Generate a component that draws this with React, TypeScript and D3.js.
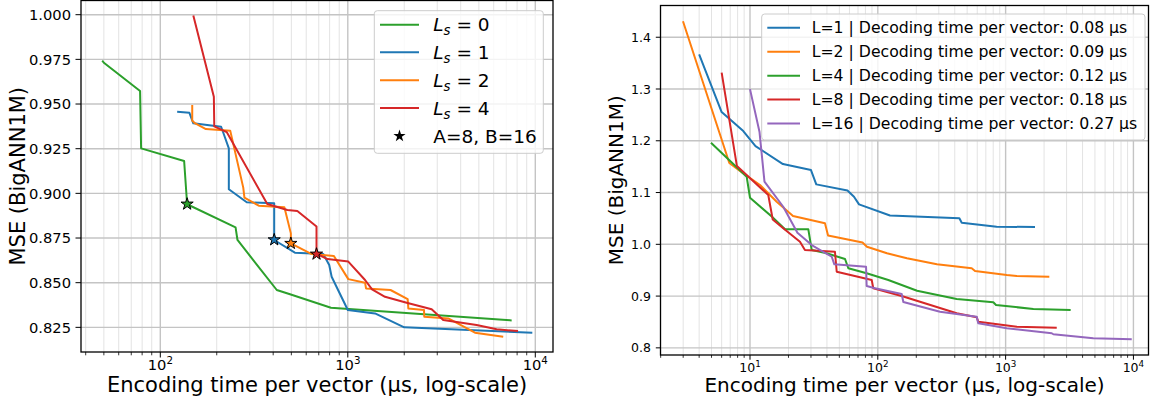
import React from 'react';
import * as d3 from 'd3';

const W = 1154;
const H = 406;
const FONT = '"DejaVu Sans", Verdana, sans-serif';

const blue = '#1f77b4';
const orange = '#ff7f0e';
const green = '#2ca02c';
const red = '#d62728';
const purple = '#9467bd';

// ---- left panel: L_s sweep ----
const ls0Time = [49, 50, 78, 79, 134, 139, 252, 258, 418, 492, 813, 7480];
const ls0Mse = [0.9743, 0.9731, 0.9573, 0.9252, 0.9181, 0.8939, 0.881, 0.8739, 0.8459, 0.8435, 0.836, 0.8289];

const ls1Time = [123, 143, 150, 211, 217, 232, 232, 289, 405, 405, 522, 740, 796, 820, 1000, 1397, 2000, 9640];
const ls1Mse = [0.9457, 0.9451, 0.9392, 0.9373, 0.9338, 0.9252, 0.9023, 0.895, 0.8944, 0.8739, 0.8668, 0.866, 0.8599, 0.8533, 0.8347, 0.8328, 0.825, 0.822];

const ls2Time = [148, 148, 152, 175, 236, 277, 281, 335, 459, 497, 497, 642, 843, 1006, 1236, 1251, 1690, 2086, 2103, 2549, 2558, 3436, 4765, 6745];
const ls2Mse = [0.9494, 0.9407, 0.9395, 0.936, 0.9351, 0.9032, 0.8976, 0.8931, 0.8922, 0.8776, 0.872, 0.866, 0.8649, 0.852, 0.85, 0.8468, 0.8459, 0.8408, 0.8356, 0.8347, 0.8309, 0.83, 0.822, 0.8198];

const ls4Time = [150, 193, 194, 226, 372, 476, 538, 681, 681, 780, 1006, 1236, 1347, 1579, 2060, 2800, 3228, 4864, 6222, 8090];
const ls4Mse = [0.9995, 0.9541, 0.9375, 0.9343, 0.894, 0.8907, 0.8901, 0.8814, 0.8662, 0.8632, 0.8618, 0.8515, 0.8463, 0.8421, 0.8388, 0.8351, 0.8291, 0.8263, 0.8239, 0.8229];

// A=8, B=16 operating points
const starTime = [139, 405, 497, 681];
const starMse = [0.894, 0.874, 0.872, 0.866];

const lsValues = ['0', '1', '2', '4'];
const leftYTicks = [0.825, 0.85, 0.875, 0.9, 0.925, 0.95, 0.975, 1.0];

// ---- right panel: L sweep ----
const l1Time = [4.0, 6.0, 8.86, 11.04, 18.1, 30, 33, 57.9, 65.1, 71.3, 124.5, 434.6, 453.6, 851, 1698];
const l1Mse = [1.3668, 1.2554, 1.2187, 1.1898, 1.155, 1.1434, 1.1158, 1.1039, 1.0919, 1.0772, 1.0556, 1.0502, 1.0417, 1.034, 1.0334];

const l2Time = [2.99, 6.89, 8.86, 11.98, 16.17, 21.7, 38.6, 40.8, 75.9, 82.2, 118, 169, 290, 543, 576.5, 1020, 1222, 2198];
const l2Mse = [1.431, 1.157, 1.137, 1.1145, 1.0822, 1.0546, 1.0405, 1.017, 1.0035, 0.9954, 0.9826, 0.973, 0.9614, 0.9537, 0.9485, 0.9407, 0.9388, 0.9375];

const l4Time = [4.95, 9.42, 10, 14.86, 18.8, 28.6, 30.4, 39.8, 55.4, 58.8, 81.8, 120.8, 202.8, 414, 801, 841, 1648, 3228];
const l4Mse = [1.196, 1.1305, 1.09, 1.0533, 1.029, 1.029, 0.989, 0.9826, 0.9716, 0.9537, 0.944, 0.9311, 0.9104, 0.8944, 0.888, 0.8828, 0.8751, 0.8732];

const l8Time = [6.0, 7.9, 13.9, 15.06, 18.2, 24.6, 26.9, 46.2, 47.7, 89.6, 92.2, 156, 414, 594, 611, 1222, 2512];
const l8Mse = [1.3317, 1.1512, 1.0952, 1.0479, 1.0309, 1.005, 0.989, 0.9857, 0.947, 0.931, 0.915, 0.8996, 0.8668, 0.8591, 0.8506, 0.8409, 0.839];

const l16Time = [10, 11.87, 12.98, 18.2, 23.5, 30.4, 43.6, 45.7, 80.9, 81.8, 95.1, 153.8, 158.4, 306.6, 594, 611, 1020, 2296, 2362, 4853, 9704];
const l16Mse = [1.2998, 1.2168, 1.1212, 1.0726, 1.0224, 0.9986, 0.976, 0.9614, 0.9568, 0.9195, 0.915, 0.904, 0.8886, 0.8699, 0.8602, 0.8475, 0.8378, 0.8282, 0.8263, 0.8185, 0.8166];

const rightLabels = [
  'L=1 | Decoding time per vector: 0.08 µs',
  'L=2 | Decoding time per vector: 0.09 µs',
  'L=4 | Decoding time per vector: 0.12 µs',
  'L=8 | Decoding time per vector: 0.18 µs',
  'L=16 | Decoding time per vector: 0.27 µs',
];
const rightYTicks = [0.8, 0.9, 1.0, 1.1, 1.2, 1.3, 1.4];

const zip = (a: number[], b: number[]) => a.map((v, i) => [v, b[i]] as [number, number]);

const leftSeries = [
  { pts: zip(ls0Time, ls0Mse), color: green },
  { pts: zip(ls1Time, ls1Mse), color: blue },
  { pts: zip(ls2Time, ls2Mse), color: orange },
  { pts: zip(ls4Time, ls4Mse), color: red },
];
const rightSeries = [
  { pts: zip(l1Time, l1Mse), color: blue },
  { pts: zip(l2Time, l2Mse), color: orange },
  { pts: zip(l4Time, l4Mse), color: green },
  { pts: zip(l8Time, l8Mse), color: red },
  { pts: zip(l16Time, l16Mse), color: purple },
];

function Panel(props: any) {
  const { id, box, xDomain, yDomain, yTicks, yFmt, tickFont, xTickBase, yTickEnd, tickLen,
    labelFont, xLabelBase, yLabelX, series, stars, legend } = props;
  const x = d3.scaleLog().domain(xDomain).range([box.x0, box.x1]);
  const y = d3.scaleLinear().domain(yDomain).range([box.y1, box.y0]);
  const line = d3.line<[number, number]>().x(d => x(d[0])).y(d => y(d[1]));

  const majors: { v: number; e: number }[] = [];
  const minors: number[] = [];
  const e0 = Math.floor(Math.log10(xDomain[0]));
  const e1 = Math.ceil(Math.log10(xDomain[1]));
  for (let e = e0; e <= e1; e++) {
    for (let m = 1; m < 10; m++) {
      const v = m * Math.pow(10, e);
      if (v < xDomain[0] || v > xDomain[1]) continue;
      if (m === 1) majors.push({ v, e });
      else minors.push(v);
    }
  }

  const star = d3.symbol(d3.symbolStar, props.starSize || 40)() as string;
  const cx = (box.x0 + box.x1) / 2;
  const cy = (box.y0 + box.y1) / 2;

  return (
    <g fontFamily={FONT}>
      <defs>
        <clipPath id={id}>
          <rect x={box.x0} y={box.y0} width={box.x1 - box.x0} height={box.y1 - box.y0} />
        </clipPath>
      </defs>
      {/* grid */}
      {minors.map((v, i) => (
        <line key={'mg' + i} x1={x(v)} x2={x(v)} y1={box.y0} y2={box.y1} stroke="#e3e3e3" strokeWidth={1} />
      ))}
      {majors.map((t, i) => (
        <line key={'Mg' + i} x1={x(t.v)} x2={x(t.v)} y1={box.y0} y2={box.y1} stroke="#c4c4c4" strokeWidth={1.4} />
      ))}
      {yTicks.map((t: number, i: number) => (
        <line key={'yg' + i} x1={box.x0} x2={box.x1} y1={y(t)} y2={y(t)} stroke="#c4c4c4" strokeWidth={1.4} />
      ))}
      {/* series */}
      <g clipPath={`url(#${id})`}>
        {series.map((s: any, i: number) => (
          <path key={'s' + i} d={line(s.pts) || ''} fill="none" stroke={s.color} strokeWidth={2} strokeLinejoin="round" />
        ))}
        {stars && stars.map((s: any, i: number) => (
          <path key={'st' + i} d={star} transform={`translate(${x(s.t)},${y(s.m)})`} fill={s.color} stroke="#000" strokeWidth={1} />
        ))}
      </g>
      {/* spines */}
      <rect x={box.x0} y={box.y0} width={box.x1 - box.x0} height={box.y1 - box.y0} fill="none" stroke="#000" strokeWidth={1.3} />
      {/* x ticks */}
      {minors.map((v, i) => (
        <line key={'mt' + i} x1={x(v)} x2={x(v)} y1={box.y1} y2={box.y1 + tickLen * 0.6} stroke="#000" strokeWidth={0.8} />
      ))}
      {majors.map((t, i) => (
        <g key={'Mt' + i}>
          <line x1={x(t.v)} x2={x(t.v)} y1={box.y1} y2={box.y1 + tickLen} stroke="#000" strokeWidth={1} />
          <text x={x(t.v)} y={xTickBase} fontSize={tickFont} textAnchor="middle" fill="#000">
            10<tspan dy={-tickFont * 0.42} fontSize={tickFont * 0.7}>{t.e}</tspan>
          </text>
        </g>
      ))}
      {/* y ticks */}
      {yTicks.map((t: number, i: number) => (
        <g key={'yt' + i}>
          <line x1={box.x0 - tickLen} x2={box.x0} y1={y(t)} y2={y(t)} stroke="#000" strokeWidth={1} />
          <text x={yTickEnd} y={y(t) + tickFont * 0.36} fontSize={tickFont} textAnchor="end" fill="#000">
            {d3.format(yFmt)(t)}
          </text>
        </g>
      ))}
      {/* axis labels */}
      <text x={cx} y={xLabelBase} fontSize={labelFont.x} textAnchor="middle" fill="#000">
        Encoding time per vector (µs, log-scale)
      </text>
      <text transform={`translate(${yLabelX},${cy}) rotate(-90)`} fontSize={labelFont.y} textAnchor="middle" fill="#000">
        MSE (BigANN1M)
      </text>
      {/* legend */}
      <g>
        <rect x={legend.x} y={legend.y} width={legend.w} height={legend.h} rx={3} fill="#fff" fillOpacity={0.8} stroke="#cccccc" strokeWidth={1} />
        {legend.items.map((it: any, i: number) => {
          const ry = legend.rows[i];
          return (
            <g key={'lg' + i}>
              {it.kind === 'line' ? (
                <line x1={legend.hx0} x2={legend.hx1} y1={ry} y2={ry} stroke={it.color} strokeWidth={2} />
              ) : (
                <path d={d3.symbol(d3.symbolStar, 46)() as string} transform={`translate(${(legend.hx0 + legend.hx1) / 2},${ry})`} fill="#000" />
              )}
              <text x={legend.tx} y={ry + legend.font * 0.36} fontSize={legend.font} fill="#000">
                {it.label}
              </text>
            </g>
          );
        })}
      </g>
    </g>
  );
}

function lsLabel(v: string) {
  return (
    <>
      <tspan fontStyle="italic">L</tspan>
      <tspan fontStyle="italic" dy={4} fontSize="0.72em">s</tspan>
      <tspan dy={-4}> = {v}</tspan>
    </>
  );
}

export default function App() {
  const leftStars = starTime.map((t, i) => ({ t, m: starMse[i], color: [green, blue, orange, red][i] }));
  const leftLegend = {
    x: 374.3, y: 10.7, w: 169, h: 142.6,
    hx0: 380, hx1: 419, tx: 433.3, font: 18.5,
    rows: [24.7, 52.3, 80.3, 108, 136],
    items: [
      ...lsValues.map((v, i) => ({ kind: 'line', color: [green, blue, orange, red][i], label: lsLabel(v) })),
      { kind: 'star', label: 'A=8, B=16' },
    ],
  };
  const rightLegend = {
    x: 761.7, y: 14, w: 383.3, h: 126,
    hx0: 767.3, hx1: 800, tx: 811.7, font: 15.7,
    rows: [27.7, 51.7, 75.7, 99.6, 123.6],
    items: rightLabels.map((l, i) => ({ kind: 'line', color: [blue, orange, green, red, purple][i], label: l })),
  };

  return (
    <svg width={W} height={H} style={{ position: 'absolute', left: 0, top: 0, display: 'block', background: '#fff' }}>
      <Panel
        id="clipL"
        box={{ x0: 81, x1: 553, y0: 0.5, y1: 352 }}
        xDomain={[37.76, 12429]}
        yDomain={[0.8112, 1.00795]}
        yTicks={leftYTicks}
        yFmt=".3f"
        tickFont={14.7}
        xTickBase={370}
        yTickEnd={71}
        tickLen={5.5}
        labelFont={{ x: 21, y: 21 }}
        xLabelBase={392}
        yLabelX={25}
        series={leftSeries}
        stars={leftStars}
        starSize={46}
        legend={leftLegend}
      />
      <Panel
        id="clipR"
        box={{ x0: 660.5, x1: 1148.5, y0: 5.5, y1: 355 }}
        xDomain={[1.994, 13120]}
        yDomain={[0.7862, 1.4613]}
        yTicks={rightYTicks}
        yFmt=".1f"
        tickFont={12.5}
        xTickBase={372}
        yTickEnd={651}
        tickLen={4.7}
        labelFont={{ x: 20, y: 20 }}
        xLabelBase={392}
        yLabelX={623}
        series={rightSeries}
        legend={rightLegend}
      />
    </svg>
  );
}
